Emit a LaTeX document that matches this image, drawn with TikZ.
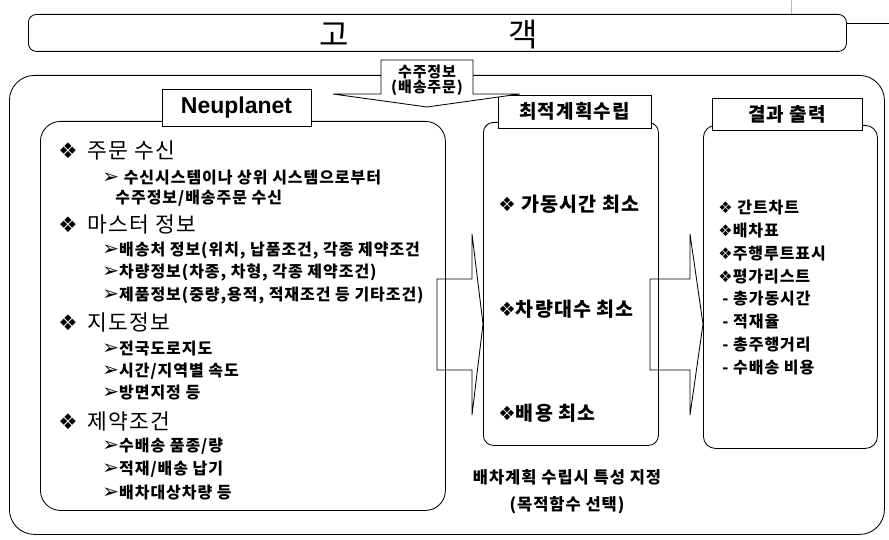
\documentclass[tikz,border=0pt]{standalone}
\usepackage{graphicx}
\usepackage{fontspec}
\setmainfont{Liberation Sans}
\newfontfamily\kr[LetterSpace=6]{Noto Sans CJK KR}
\newfontfamily\krbig{Noto Sans CJK KR}
\newfontfamily\symf{DejaVu Sans}
\newcommand\mydia{{\symf ❖}}
\newcommand\myarr{{\symf\scalebox{1.25}{➢}}}
\begin{document}
\begin{tikzpicture}[x=1pt,y=-1pt,line width=0.85pt,
  frame/.style={draw,rounded corners=#1,anchor=north west,inner sep=0pt},
  hdr/.style={draw,fill=white,inner sep=0pt,font=\kr\bfseries\fontsize{19}{19}\selectfont},
  sec/.style={anchor=west,inner sep=0pt,font=\kr\fontsize{21.5}{21.5}\selectfont},
  sub/.style={anchor=west,inner sep=0pt,font=\kr\bfseries\fontsize{16}{16}\selectfont},
  mid/.style={anchor=west,inner sep=0pt,font=\kr\bfseries\fontsize{19.5}{19.5}\selectfont},
  res/.style={anchor=west,inner sep=0pt,font=\kr\bfseries\fontsize{16}{16}\selectfont},
  note/.style={inner sep=0pt,font=\kr\bfseries\fontsize{16.5}{16.5}\selectfont},
  lbl/.style={inner sep=0pt,font=\kr\bfseries\fontsize{15}{15}\selectfont},
  big/.style={inner sep=0pt,font=\krbig\fontsize{32}{32}\selectfont},
  blockarrow/.style={draw,line join=miter}]
\useasboundingbox (0,0) rectangle (889,540);

% customer banner
\node[frame=8,minimum width=818pt,minimum height=37pt] (banner) at (28,14) {};
\node[big] (go) at (334,35) {고};
\node[big] (gaek) at (523,35) {객};
\coordinate (edge) at (889,23);
\draw (banner.east |- edge) -- (edge);
\coordinate (topmark) at (791,0);
\draw[gray!55,line width=0.4pt] (topmark) -- (topmark |- banner.north);

% outer frame
\node[frame=25,minimum width=875pt,minimum height=459pt] (outer) at (9,75) {};

% inner boxes
\node[frame=20,minimum width=405pt,minimum height=389pt] (left) at (40,121) {};
\node[frame=10,minimum width=175pt,minimum height=323pt] (mid) at (483,122) {};
\node[frame=12,minimum width=174pt,minimum height=323pt] (res) at (703,125) {};

% block arrows
\draw[blockarrow] (437,279) -- (472,279) -- (472,234) -- (483,324) -- (472,415) -- (472,370) -- (437,370) -- cycle;
\draw[blockarrow] (650,279) -- (690,279) -- (690,234) -- (703,324) -- (690,415) -- (690,370) -- (650,370) -- cycle;

% headers
\node[hdr,minimum width=149pt,minimum height=37pt,font=\normalfont\bfseries\fontsize{23}{23}\selectfont] (neu) at (236.5,108) {Neuplanet};
\node[hdr,minimum width=153pt,minimum height=33pt] (opt) at (574.5,111.5) {최적계획수립};
\node[hdr,minimum width=150pt,minimum height=32pt] (out) at (787,114) {결과 출력};

% order info callout arrow
\draw[fill=white,line join=miter] (381,60) -- (473,60) -- (473,94) -- (520,94) -- (427,107) -- (333,94) -- (381,94) -- cycle;
\node[lbl] (ord1) at (427,72) {수주정보};
\node[lbl] (ord2) at (427,88) {(배송주문)};

% left box text
\node[sec] (s1) at (58,150) {\mydia{}\, 주문 수신};
\node[sub] (s1a) at (102,178) {\myarr{} 수신시스템이나 상위 시스템으로부터};
\node[sub] (s1b) at (115,198) {수주정보/배송주문 수신};
\node[sec] (s2) at (58,224) {\mydia{}\, 마스터 정보};
\node[sub] (s2a) at (102,251) {\myarr{}배송처 정보(위치, 납품조건, 각종 제약조건};
\node[sub] (s2b) at (102,273) {\myarr{}차량정보(차종, 차형, 각종 제약조건)};
\node[sub] (s2c) at (102,296) {\myarr{}제품정보(중량,용적, 적재조건 등 기타조건)};
\node[sec] (s3) at (58,322) {\mydia{}\, 지도정보};
\node[sub] (s3a) at (102,349) {\myarr{}전국도로지도};
\node[sub] (s3b) at (102,371) {\myarr{}시간/지역별 속도};
\node[sub] (s3c) at (102,393) {\myarr{}방면지정 등};
\node[sec] (s4) at (58,421) {\mydia{}\, 제약조건};
\node[sub] (s4a) at (102,446) {\myarr{}수배송 품종/량};
\node[sub] (s4b) at (102,469) {\myarr{}적재/배송 납기};
\node[sub] (s4c) at (102,493) {\myarr{}배차대상차량 등};

% middle box text
\node[mid] (m1) at (498,204) {\mydia{} 가동시간 최소};
\node[mid] (m2) at (498,309) {\mydia{}차량대수 최소};
\node[mid] (m3) at (498,413) {\mydia{}배용 최소};
\node[note] (n1) at (567,477) {배차계획 수립시 특성 지정};
\node[note] (n2) at (567,505) {(목적함수 선택)};

% result box text
\node[res] (r1) at (718,208) {\mydia{} 간트차트};
\node[res] (r2) at (718,231) {\mydia{}배차표};
\node[res] (r3) at (718,254) {\mydia{}주행루트표시};
\node[res] (r4) at (718,277) {\mydia{}평가리스트};
\node[res] (r5) at (722,299) {- 총가동시간};
\node[res] (r6) at (722,322) {- 적재율};
\node[res] (r7) at (722,345) {- 총주행거리};
\node[res] (r8) at (722,368) {- 수배송 비용};
\end{tikzpicture}
\end{document}
